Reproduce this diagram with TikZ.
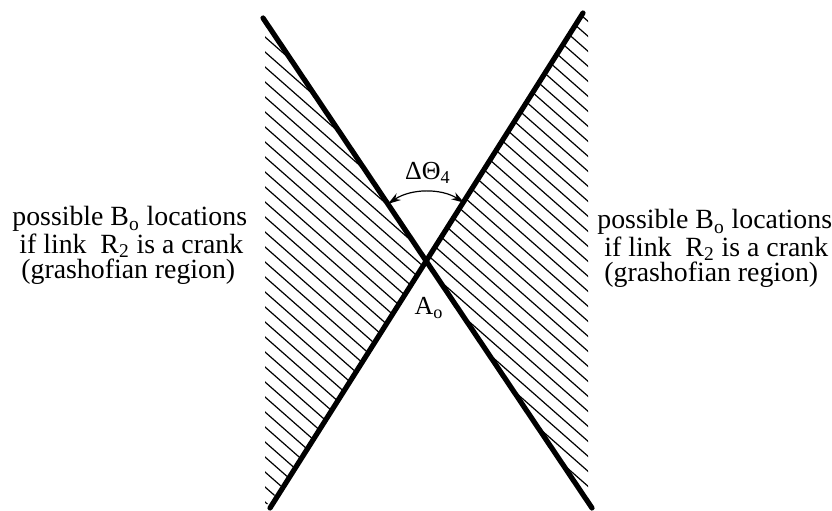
\documentclass[tikz,border=0pt]{standalone}
\usepackage{fontspec}
\setmainfont{Liberation Serif}
\usepackage{tikz}
\usetikzlibrary{arrows.meta,calc}
\tikzset{
  link-line/.style={line width=2.6pt,line cap=round},
  hatch-line/.style={line width=0.6pt},
  angle-arrow/.style={{Stealth[length=6.5pt,width=4pt]}-{Stealth[length=6.5pt,width=4pt]},
    line width=0.6pt},
  label-text/.style={font=\fontsize{13}{13}\selectfont,inner sep=0pt,anchor=base},
  region-text/.style={font=\fontsize{13.9}{12.7}\selectfont,inner sep=0pt,
    align=left,anchor=north west},
}

\begin{document}
\begin{tikzpicture}[x=0.5pt,y=0.5pt]
  \useasboundingbox (0,0) rectangle (832,510);
  \coordinate (Ao) at (427,248);
  \coordinate (l1a) at (263,492);
  \coordinate (l1b) at (592,2);
  \coordinate (l2a) at (270,2);
  \coordinate (l2b) at (583,497);
  % hatched regions (grashofian)
  \begin{scope}
    \clip (265,490) -- (Ao) -- (269,6) -- (265,6) -- cycle
          (Ao) -- (582,495) -- (588,495) -- (588,8) -- cycle;
    \foreach \k in {0,15,...,870}
      \draw[hatch-line] (240,\k) -- ++(370,-325.6);
  \end{scope}
  \draw[link-line] (l1a) -- (l1b);
  \draw[link-line] (l2a) -- (l2b);
  \coordinate (arc-start) at ($(Ao)+(123.9:70)$);
  \draw[angle-arrow] (arc-start) arc[start angle=123.9,end angle=57.9,radius=70];
  \node[label-text] (dtheta) at (428,330) {ΔΘ\textsubscript{4}};
  \node[label-text] (ao-label) at (429,195) {A\textsubscript{o}};
  % region texts
  \node[region-text] (left-text) at (12,304)
    {possible B\textsubscript{o} locations\\
     \hspace*{3.5pt}if link\ \ R\textsubscript{2} is a crank\\
     \hspace*{4.5pt}(grashofian region)};
  \node[region-text] (right-text) at (597,301)
    {possible B\textsubscript{o} locations\\
     \hspace*{3.5pt}if link\ \ R\textsubscript{2} is a crank\\
     \hspace*{3.5pt}(grashofian region)};
\end{tikzpicture}
\end{document}
